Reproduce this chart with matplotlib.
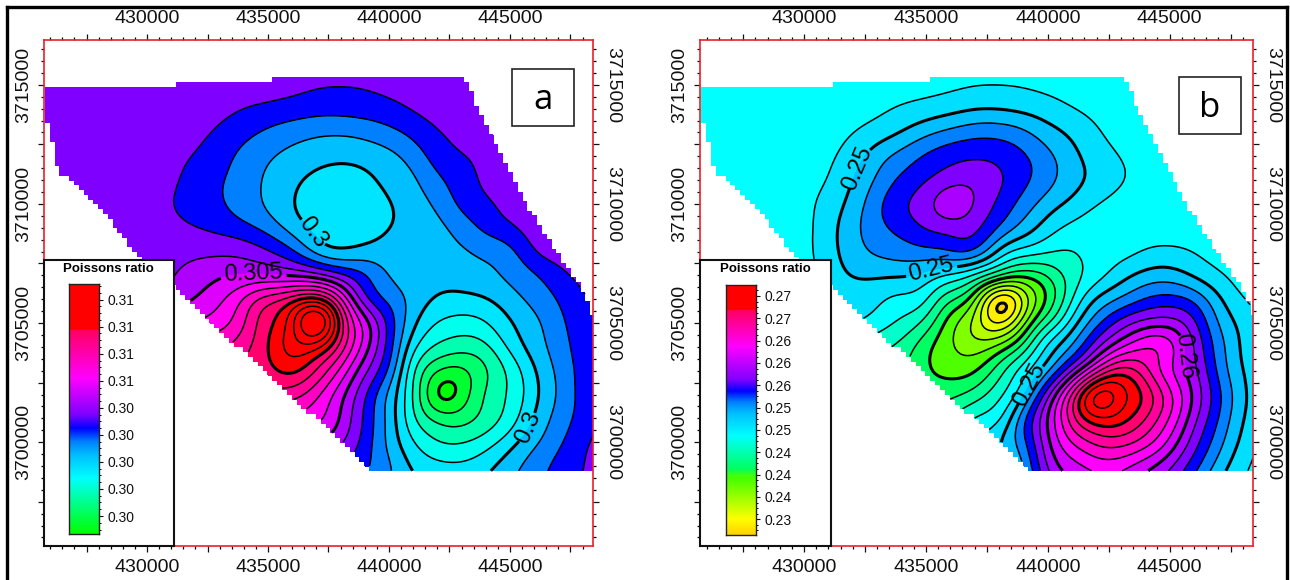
import numpy as np
import matplotlib
matplotlib.use("Agg")
import matplotlib.pyplot as plt
import matplotlib.tri as mtri
from matplotlib.colors import LinearSegmentedColormap, Normalize, to_rgb
from matplotlib.lines import Line2D
from matplotlib.patches import Rectangle
from matplotlib.path import Path
from matplotlib.ticker import AutoMinorLocator, FixedLocator

plt.rcParams["font.family"] = ["Liberation Sans", "DejaVu Sans"]

W, H = 1290, 580

# survey grid (km), every 1 km
grid_x = list(range(425, 450))
grid_y = list(range(3716, 3697, -1))

# panel a, units of 0.0001 above 0.300, one row per northing
ratio_a_rows = [
    [36]*10 + [35.5, 35, 34.5, 34, 34, 34.5, 35, 35.5] + [36]*7,
    [36]*9 + [35.5, 34.5, 33, 31, 30.5, 31, 33, 35] + [36]*8,
    [36]*8 + [33.5, 30, 28, 26, 24, 24, 25, 27, 31, 34] + [36]*7,
    [36]*6 + [35, 33, 28, 23, 18, 14, 11.5, 11, 13, 17, 23, 29.5, 33] + [36]*6,
    [36]*6 + [33, 29.5, 24, 17, 11, 7, 3.5, 2, 3.5, 7, 14, 25, 29.5, 33] + [36]*5,
    [37]*5 + [36, 32, 26, 21, 15, 8, 2, -3, -5, -3, 3, 8, 18, 25, 32.5, 35] + [37]*4,
    [37]*4 + [36, 34, 30, 26, 21, 15, 8, 0, -5, -6, -5, -1, 5, 12, 23, 28.5, 33, 36] + [37]*3,
    [37]*5 + [36, 33, 30, 27, 22.5, 16, 5, -3, -5, -4, -0.5, 3.5, 7, 14, 23, 29, 34, 36, 37, 37],
    [37]*7 + [38, 38, 37, 31, 22, 5, -1, 2.5, 4, 5, 6.5, 8.5, 12, 16, 31, 34, 37, 37],
    [36]*5 + [37, 39, 44, 49, 50, 49.5, 47, 43, 32, 22, 9, 5, 3, 3.5, 8, 12, 18, 27, 33, 37],
    [36]*4 + [37, 39, 44, 50.5, 58, 72, 88, 97, 106, 72, 30, 17, 6.5, -1, -2, -1, 6, 13, 20.5, 29, 33],
    [40]*5 + [48, 55, 60, 65, 78, 98, 116, 157, 96, 57, 27, 2, -11, -15, -11, -1, 7, 17, 26, 32],
    [50]*7 + [70, 78, 87, 100, 117, 114, 87, 55, 26, -8, -22, -26, -23, -7, 5, 15, 25, 32],
    [60]*8 + [80, 90, 97, 104, 90, 68, 42, 20, -20, -41, -44, -32, -18, -1, 12, 24, 31],
    [70]*9 + [80, 85, 85, 72, 53, 31, 7, -20, -56, -48, -28, -19, -3, 11, 24, 31],
    [70]*10 + [70, 68, 64, 50, 28, 7, -19, -33, -35, -27, -16, 1, 14, 24, 31],
    [60]*11 + [55, 50, 42, 26, 7, -10, -20, -21, -15, -4, 8, 18, 28, 35],
    [40]*13 + [32, 22, 12, -2, -7, -8, -3, 6, 15, 23, 30, 34],
    [35]*13 + [26, 18, 10, 3, 0, -1, 3, 10, 18, 25, 31, 35],
]

# panel b, units of 0.0002 above 0.250
ratio_b_rows = [
    [-15]*10 + [-14.5, -14, -13.5, -13.5, -13.5, -14, -14.5] + [-15]*8,
    [-15]*9 + [-14.5, -13.5, -12, -10.7, -10.5, -11, -12.5, -14] + [-15]*8,
    [-15]*7 + [-14, -12, -9, -6.5, -4, -1, -1, -3, -6, -10, -13] + [-15]*7,
    [-15]*6 + [-14, -10.5, -6, 0, 7.5, 13, 17, 17, 12.5, 4, -2, -9, -13.5] + [-15]*6,
    [-15]*5 + [-14.5, -12, -5, 6, 14, 22, 27, 29, 27.5, 22, 13, 3, -5, -10.5, -14] + [-15]*5,
    [-15]*5 + [-14, -10, 0, 11.5, 22.5, 29, 36, 38, 32.5, 23, 14, 4, -2.5, -9, -13] + [-15]*5,
    [-15]*5 + [-13, -6, 3.5, 18, 29, 37, 50, 40, 28, 16, 5, -2.5, -10, -14] + [-15]*6,
    [-15]*4 + [-14, -13, -4, 7, 17, 24, 31, 34, 33, 20, 6.5, -5, -13] + [-15]*8,
    [-15]*4 + [-14, -13, -4, 6, 12, 15, 18, 21, 22, -3, -13, -19, -21, -16, -14, -9.5, -8, -10.5, -14, -15, -15],
    [-15]*4 + [-14, -13, -6, 1, 1.5, 1, -4, -13, -22, -36, -48, -40, -25, -15, -4, 3.5, 5, -2, -9, -14, -15],
    [-14]*4 + [-13, -8, -3, -5, -8, -13, -17, -40, -56, -112, -80, -50, -20, 2, 11, 21, 24, 19, 2, -10, -15],
    [-14]*5 + [-12, -8, -9, -14, -22, -33, -57, -73, -96, -62, -32, -5, 17, 35, 44, 46, 33, 9, -3, -14],
    [-16]*5 + [-18, -20, -22, -28, -33, -48, -59, -66, -56, -37, -6, 10, 37, 58, 72, 67, 40, 15, -2, -13],
    [-25]*7 + [-28, -32, -38, -49, -54, -52, -34, -14, 6, 38, 75, 99, 83, 60, 43, 17, 0, -12],
    [-35]*9 + [-42, -45, -43, -36, -23, -4, 38, 84, 133, 116, 100, 74, 49, 23, 2, -10],
    [-38]*10 + [-36, -30, -18, -14, 18, 51, 88, 109, 105, 91, 70, 43, 20, 0, -10],
    [-28]*11 + [-22, -12, 0, 16, 49, 71, 83, 85, 76, 58, 35, 14, -3, -13],
    [-15]*13 + [-5, 8, 43, 56, 64, 63, 53, 42, 24, 6, -8, -15],
    [-15]*13 + [-10, 2, 34, 47, 54, 53, 44, 32, 14, -3, -12, -15],
]

# outline of the surveyed area (km)
area_x = [425.79, 432.0, 436.2, 439.0, 443.24, 444.27, 445.95, 448.15, 448.55,
          448.55, 439.36, 431.18, 429.67, 428.14, 426.45, 426.28, 425.95, 425.79]
area_y = [3714.95, 3715.12, 3715.35, 3715.32, 3715.32, 3712.97, 3709.74, 3706.37, 3705.24,
          3698.81, 3698.81, 3706.45, 3707.76, 3709.86, 3711.33, 3711.71, 3713.22, 3713.94]

x_labels = [430000, 435000, 440000, 445000]
y_labels = [3700000, 3705000, 3710000, 3715000]

# colour scales: value and colour
a_stops = [0.29467, 0.2960, 0.2988, 0.3005, 0.3015, 0.3025, 0.3035, 0.3062, 0.30979, 0.3098, 0.31316]
a_colors = ["#00ff00", "#00ff50", "#00ffff", "#00bfff", "#0080ff", "#0000ff", "#7f00ff", "#ff00ff",
            "#ff0060", "#ff0000", "#ff0000"]
b_stops = [0.22919, 0.2320, 0.2395, 0.2396, 0.2410, 0.2470, 0.2510, 0.2530, 0.2550, 0.2570, 0.2630, 0.26949, 0.2695, 0.27397]
b_colors = ["#ffd000", "#ffff00", "#40ff00", "#50ff00", "#00ff60", "#00ffff", "#00bfff", "#0080ff", "#0000ff",
            "#7f00ff", "#ff00ff", "#ff0060", "#ff0000", "#ff0000"]

a_ticks = [0.296, 0.298, 0.300, 0.302, 0.304, 0.306, 0.308, 0.310, 0.312]
b_ticks = [0.232, 0.236, 0.240, 0.244, 0.248, 0.252, 0.256, 0.260, 0.264, 0.268, 0.272]

# contour levels, thin every step, thick on the labelled ones
a_levels = [round(0.290 + 0.001 * i, 3) for i in range(30)]
a_thick = [0.295, 0.300, 0.305, 0.310]
b_levels = [round(0.226 + 0.002 * i, 3) for i in range(28)]
b_thick = [0.230, 0.240, 0.250, 0.260, 0.270]

# label spots (m)
a_spots = [(436600, 3708670), (434400, 3706850), (445800, 3700600)]
b_spots = [(432800, 3711300), (435300, 3707000), (439300, 3702400), (445000, 3703600)]

fig = plt.figure(figsize=(W / 100, H / 100), dpi=100)


def px_axes(left, top, right, bottom, **kw):
    return fig.add_axes([left / W, 1 - bottom / H, (right - left) / W, (bottom - top) / H], **kw)


def make_cmap(stops, colors):
    lo, hi = stops[0], stops[-1]
    nodes = [(s - lo) / (hi - lo) for s in stops]
    return LinearSegmentedColormap.from_list("ratio", list(zip(nodes, [to_rgb(c) for c in colors])), N=2048), Normalize(lo, hi)


def blur(z, sigma):
    # gaussian along both axes, edges padded
    r = int(3 * sigma)
    k = np.exp(-0.5 * (np.arange(-r, r + 1) / sigma) ** 2)
    k /= k.sum()
    z = np.pad(z, r, mode="edge")
    z = np.apply_along_axis(lambda v: np.convolve(v, k, mode="same"), 0, z)
    z = np.apply_along_axis(lambda v: np.convolve(v, k, mode="same"), 1, z)
    return z[r:-r, r:-r]


def draw_map(box, rows, base, unit, levels, thick, spots, stops, colors, letter, letter_box):
    ax = px_axes(*box)
    cmap, norm = make_cmap(stops, colors)
    gx, gy = np.meshgrid(np.array(grid_x) * 1000.0, np.array(grid_y) * 1000.0)
    z = base + np.array(rows, dtype=float) * unit
    tri = mtri.Triangulation(gx.ravel(), gy.ravel())
    surface = mtri.CubicTriInterpolator(tri, z.ravel())

    # regular 100 m mesh for the contouring, smoothed a little
    fx, fy = np.meshgrid(np.arange(425000.0, 449001, 100), np.arange(3698000.0, 3716001, 100))
    fz = blur(np.ma.filled(surface(fx, fy), base), 4.0)

    # mask outside the survey, in 200 m blocks like the gridded original
    outline = Path(np.column_stack([np.array(area_x) * 1000, np.array(area_y) * 1000]))
    inside = outline.contains_points(np.column_stack([(np.floor(fx / 200) * 200 + 100).ravel(),
                                                      (np.floor(fy / 200) * 200 + 100).ravel()])).reshape(fx.shape)
    fz = np.ma.array(fz, mask=~inside)

    ax.contourf(fx, fy, fz, levels=levels, cmap=cmap, norm=norm, corner_mask=False)
    ax.contour(fx, fy, fz, levels=[v for v in levels if v not in thick], colors="black", linewidths=1.1, corner_mask=False)
    bold = ax.contour(fx, fy, fz, levels=thick, colors="black", linewidths=2.2, corner_mask=False)
    ax.clabel(bold, manual=spots, fmt="%g", fontsize=17, inline=True, inline_spacing=2)

    ax.set_xlim(425730, 448420)
    ax.set_ylim(3695655, 3716880)
    for side in ax.spines.values():
        side.set_color("#e8202a")
        side.set_linewidth(1.2)

    # every 2500 m a longer tick, labels only every 5000 m
    ax.xaxis.set_major_locator(FixedLocator(list(range(427500, 449000, 2500))))
    ax.yaxis.set_major_locator(FixedLocator(list(range(3697500, 3717000, 2500))))
    ax.set_xticklabels([str(v) if v in x_labels else "" for v in range(427500, 449000, 2500)])
    ax.set_yticklabels([str(v) if v in y_labels else "" for v in range(3697500, 3717000, 2500)])
    ax.xaxis.set_minor_locator(AutoMinorLocator(5))
    ax.yaxis.set_minor_locator(AutoMinorLocator(5))
    ax.tick_params(which="major", length=4.2, width=0.9, direction="out", top=True, right=True,
                   labeltop=True, labelright=True, labelsize=14, colors="#111111")
    ax.tick_params(axis="x", which="major", pad=5.5)
    ax.tick_params(axis="y", which="major", pad=4)
    ax.tick_params(which="minor", length=2, width=0.9, direction="out", top=True, right=True)
    for tick in ax.yaxis.get_major_ticks():
        tick.label1.set_rotation(90)
        tick.label1.set_va("center")
        tick.label2.set_rotation(-90)
        tick.label2.set_va("center")

    # letter in its box
    l, t, r, b = letter_box
    fig.add_artist(Rectangle((l / W, 1 - b / H), (r - l) / W, (b - t) / H, fc="white", ec="#222222", lw=1.2,
                             transform=fig.transFigure, zorder=5))
    fig.text((l + r) / 2 / W, 1 - (t + b) / 2 / H - 0.004, letter, fontsize=25, ha="center", va="center",
             family=["Open Sans", "DejaVu Sans"], zorder=6)
    return cmap, norm


def draw_legend(box, bar, cmap, norm, ticks):
    l, t, r, b = box
    leg = px_axes(l, t, r, b, zorder=8)
    leg.set_xticks([])
    leg.set_yticks([])
    for side in leg.spines.values():
        side.set_linewidth(1.5)
        side.set_color("#111111")
    fig.text((l + 65) / W, 1 - (t + 8.5) / H, "Poissons ratio", fontsize=9.5, fontweight="bold", ha="center", va="center", zorder=9)

    cb = px_axes(*bar, zorder=9)
    grad = np.linspace(norm.vmin, norm.vmax, 800).reshape(-1, 1)
    cb.imshow(grad, cmap=cmap, norm=norm, origin="lower", aspect="auto",
              extent=[0, 1, norm.vmin, norm.vmax])
    cb.set_xticks([])
    cb.yaxis.tick_right()
    cb.set_yticks(ticks)
    cb.set_yticklabels(["%.2f" % v for v in ticks])
    cb.yaxis.set_minor_locator(AutoMinorLocator(4))
    cb.tick_params(which="major", length=3, width=0.8, labelsize=10, pad=3, colors="#111111")
    cb.tick_params(which="minor", length=1.5, width=0.7)
    for side in cb.spines.values():
        side.set_linewidth(1.0)
        side.set_color("#222222")


cmap_a, norm_a = draw_map((43.7, 40, 592.7, 545.7), ratio_a_rows, 0.300, 0.0001, a_levels, a_thick, a_spots,
                          a_stops, a_colors, "a", (512, 69, 573.5, 126))
cmap_b, norm_b = draw_map((700, 40, 1253, 545.7), ratio_b_rows, 0.250, 0.0002, b_levels, b_thick, b_spots,
                          b_stops, b_colors, "b", (1179, 77, 1241, 134))

draw_legend((43.7, 260, 174, 545.7), (69.4, 284, 99, 534), cmap_a, norm_a, a_ticks)
draw_legend((700, 260, 831, 546), (726, 285, 756.5, 535), cmap_b, norm_b, b_ticks)

# black frame round the whole picture, open at the bottom
for (x0, y0, x1, y1) in [(7, 7, 1287, 7), (7, 7, 7, 580), (1287, 7, 1287, 580)]:
    fig.add_artist(Line2D([x0 / W, x1 / W], [1 - y0 / H, 1 - y1 / H], color="black", lw=2.4, transform=fig.transFigure))

fig.savefig("out.png", dpi=100)
